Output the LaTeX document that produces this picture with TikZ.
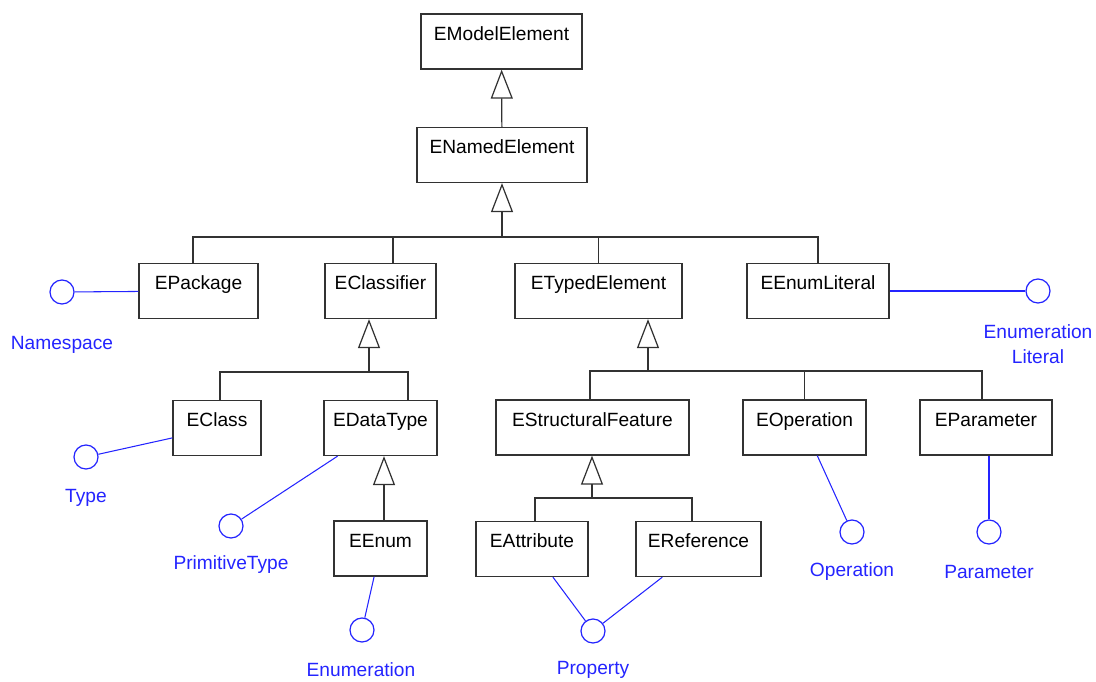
\documentclass[tikz,border=0pt]{standalone}
\usepackage{fontspec}
\setmainfont{Liberation Sans}
\usetikzlibrary{positioning,arrows.meta}
\definecolor{ecoreblue}{RGB}{36,36,255}
\definecolor{ecoregray}{RGB}{50,50,50}

\begin{document}
\begin{tikzpicture}[font=\fontsize{10.9}{13}\selectfont,
    cls/.style={draw=ecoregray,line width=0.7pt,inner xsep=0pt,inner ysep=0pt,
                text height=0.52cm,text depth=0.58cm,minimum width=#1},
    iface/.style={draw=ecoreblue,circle,line width=0.7pt,inner sep=0pt,minimum size=0.48cm},
    iname/.style={text=ecoreblue,align=center,font=\fontsize{10.9}{14.2}\selectfont},
    tree/.style={draw=ecoregray,line width=0.7pt},
    gen/.style={tree,-{Triangle[open,length=0.58cm,width=0.44cm]}},
    real/.style={draw=ecoreblue,line width=0.6pt}]
    \useasboundingbox (0,0) rectangle (21.92,-13.62);
    % Ecore classes
    \node[cls=3.22cm] (model)      at (10.03,-0.83) {EModelElement};
    \node[cls=3.40cm] (named)      at (10.04,-3.10) {ENamedElement};
    \node[cls=2.38cm] (pkg)        at (3.97,-5.82)  {EPackage};
    \node[cls=2.22cm] (classifier) at (7.61,-5.82)  {EClassifier};
    \node[cls=3.34cm] (typed)      at (11.97,-5.82) {ETypedElement};
    \node[cls=2.84cm] (enumlit)    at (16.36,-5.82) {EEnumLiteral};
    \node[cls=1.76cm] (eclass)     at (4.34,-8.56)  {EClass};
    \node[cls=2.26cm] (datatype)   at (7.61,-8.56)  {EDataType};
    \node[cls=3.86cm] (sfeat)      at (11.85,-8.55) {EStructuralFeature};
    \node[cls=2.46cm] (oper)       at (16.09,-8.55) {EOperation};
    \node[cls=2.64cm] (param)      at (19.72,-8.55) {EParameter};
    \node[cls=1.86cm] (enum)       at (7.61,-10.97) {EEnum};
    \node[cls=2.24cm] (attr)       at (10.64,-10.98) {EAttribute};
    \node[cls=2.50cm] (ref)        at (13.97,-10.98) {EReference};

    % realised interfaces (lollipops)
    \node[iface] (nsI)   at (1.24,-5.84)  {};
    \node[iface] (typeI) at (1.72,-9.14)  {};
    \node[iface] (primI) at (4.62,-10.52) {};
    \node[iface] (enumI) at (7.24,-12.60) {};
    \node[iface] (propI) at (11.86,-12.62) {};
    \node[iface] (opI)   at (17.04,-10.64) {};
    \node[iface] (parI)  at (19.78,-10.64) {};
    \node[iface] (litI)  at (20.76,-5.82)  {};
    \node[iname] (nsL)   at (1.24,-6.90)  {Namespace};
    \node[iname] (typeL) at (1.72,-9.96)  {Type};
    \node[iname] (primL) at (4.62,-11.30) {PrimitiveType};
    \node[iname] (enumL) at (7.22,-13.40) {Enumeration};
    \node[iname] (propL) at (11.86,-13.40) {Property};
    \node[iname] (opL)   at (17.04,-11.44) {Operation};
    \node[iname] (parL)  at (19.78,-11.44) {Parameter};
    \node[iname] (litL)  at (20.76,-6.89)  {Enumeration\\Literal};

    % generalisation trees
    \coordinate (b1) at (10.04,-4.74);
    \coordinate (b2) at (7.38,-7.44);
    \coordinate (b3) at (12.96,-7.42);
    \coordinate (b4) at (11.84,-9.96);
    \draw[gen] (named) -- (model);
    \draw[gen] (b1) -- (named);
    \draw[tree] ([xshift=-0.11cm]pkg.north) |- (b1) -| (enumlit.north);
    \draw[tree] (classifier.north) ++(0.25,0) -- ++(0,0.54);
    \draw[tree] (typed.north) -- (typed.north |- b1);
    \draw[gen] (b2) -- (b2 |- classifier.south);
    \draw[tree] ([xshift=0.06cm]eclass.north) |- (b2) -| ([xshift=0.55cm]datatype.north);
    \draw[gen] ([xshift=0.07cm]enum.north) -- ([xshift=0.07cm]datatype.south);
    \draw[gen] (b3) -- (b3 |- typed.south);
    \draw[tree] ([xshift=-0.05cm]sfeat.north) |- (b3) -| ([xshift=-0.08cm]param.north);
    \draw[tree] (oper.north) -- (oper.north |- b3);
    \draw[gen] (b4) -- (b4 |- sfeat.south);
    \draw[tree] ([xshift=0.06cm]attr.north) |- (b4) -| ([xshift=-0.13cm]ref.north);

    % interface links
    \draw[real] (nsI) -- (pkg);
    \draw[real] (typeI) -- (eclass);
    \draw[real] (primI) -- (datatype);
    \draw[real] (enumI) -- (enum);
    \draw[real] (propI) -- (attr);
    \draw[real] (propI) -- (ref);
    \draw[real] (opI) -- (oper);
    \draw[real] (parI) -- (parI |- param.south);
    \draw[real] (litI) -- (enumlit);
\end{tikzpicture}
\end{document}
